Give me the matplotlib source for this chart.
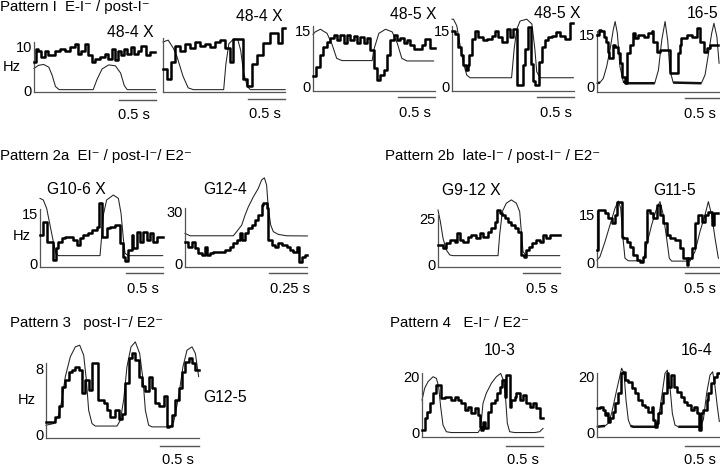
import matplotlib
matplotlib.use('Agg')
import matplotlib.pyplot as plt
import numpy as np

W, H = 720, 466
plt.rcParams['font.family'] = ['Liberation Sans', 'DejaVu Sans']

# ---------------- data ----------------
# thick trace: step edges (s) and firing rate per step (Hz)
# thin trace: time (s) and value (drawn on the same Hz scale)

# Pattern I, 48-4 X (first)
p1_step_t = [0, 0.03, 0.06, 0.10, 0.15, 0.19, 0.28, 0.35, 0.42, 0.49, 0.55, 0.60, 0.64,
             0.69, 0.73, 0.78, 0.82, 0.89, 0.96, 1.00, 1.05, 1.09, 1.13, 1.17, 1.22, 1.26,
             1.31, 1.35, 1.40, 1.45, 1.52, 1.57, 1.64]
p1_step_hz = [6.5, 9.4, 9.0, 7.6, 9.0, 8.0, 9.0, 9.4, 9.0, 9.8, 10.5, 8.3, 9.0, 10.5, 8.0,
              6.5, 7.2, 7.6, 8.3, 7.2, 9.4, 6.9, 9.0, 8.0, 9.4, 8.3, 9.8, 8.3, 9.0, 10.1,
              8.0, 8.7]
p1_thin_t = [0, 0.06, 0.13, 0.20, 0.245, 0.29, 0.34, 0.80, 0.85, 0.92, 1.01, 1.10, 1.17,
             1.22, 1.26, 1.64]
p1_thin_y = [5.0, 5.7, 5.9, 5.3, 3.5, 1.0, 0.3, 0.3, 2.5, 4.9, 5.8, 5.6, 4.0, 1.2, 0.3, 0.3]

# Pattern I, 48-4 X (second)
p2_step_t = [0, 0.05, 0.11, 0.16, 0.23, 0.30, 0.36, 0.43, 0.50, 0.57, 0.64, 0.70, 0.77,
             0.84, 0.91, 0.95, 1.08, 1.14, 1.20, 1.27, 1.35, 1.45, 1.55, 1.61, 1.65]
p2_step_hz = [4.8, 2.6, 6.5, 10, 9, 10.5, 9.5, 11, 10, 10.5, 9.8, 11, 11.3, 9.5, 6.5, 11.6,
              2.6, 1.1, 5.9, 8, 10.6, 12.8, 10.6, 14]
p2_thin_t = [0, 0.07, 0.14, 0.19, 0.27, 0.34, 0.41, 0.82, 0.85, 0.89, 0.95, 1.01, 1.05,
             1.09, 1.14, 1.18, 1.65]
p2_thin_y = [10.9, 11.3, 9.5, 7.6, 3.3, 0.7, 0.3, 0.3, 6, 10.5, 11.5, 11.5, 9, 4, 1, 0.3, 0.3]

# Pattern I, 48-5 X (first)
p3_step_t = [0, 0.045, 0.09, 0.135, 0.19, 0.234, 0.279, 0.324, 0.369, 0.414, 0.459, 0.505,
             0.55, 0.595, 0.64, 0.685, 0.73, 0.775, 0.82, 0.865, 0.91, 0.955, 1.0, 1.045,
             1.09, 1.135, 1.18, 1.225, 1.27, 1.315, 1.36, 1.473, 1.518, 1.586, 1.653]
p3_step_hz = [2.9, 5.4, 8.5, 10.7, 12, 13, 13.8, 12.5, 13.8, 11.6, 13.8, 12.5, 13.6, 11.8,
              13.2, 11.8, 13, 9.8, 4.9, 1.8, 3.1, 4.5, 8.5, 12.5, 13.8, 12.5, 13, 11.6,
              12.5, 11.2, 10, 11.2, 12.7, 10.5]
p3_thin_t = [0, 0.03, 0.10, 0.19, 0.26, 0.32, 0.39, 0.80, 0.82, 0.89, 0.98, 1.07, 1.14,
             1.20, 1.27, 1.63]
p3_thin_y = [14.0, 14.7, 15.4, 14.3, 11.2, 7.6, 7.0, 7.0, 9.8, 14.3, 15.4, 14.7, 11.6, 7.6,
             6.9, 6.9]

# Pattern I, 48-5 X (second)
p4_step_t = [0, 0.04, 0.085, 0.12, 0.155, 0.185, 0.21, 0.23, 0.265, 0.31, 0.355, 0.425,
             0.47, 0.535, 0.58, 0.625, 0.67, 0.74, 0.785, 0.83, 0.875, 0.965, 0.985, 1.03,
             1.07, 1.10, 1.12, 1.17, 1.21, 1.26, 1.30, 1.35, 1.41, 1.46, 1.53, 1.59, 1.64]
p4_step_hz = [15, 14.1, 10.6, 8.4, 5.7, 4.4, 5.7, 8.4, 12.8, 15, 13.2, 12.4, 12.8, 13.7, 15,
              13.2, 11.9, 15.4, 13.2, 15.4, 0.4, 5.7, 10.1, 15.9, 6, 1.5, 0.4, 6.6, 10.6,
              12.4, 13.2, 13.7, 14.6, 13.7, 12.8, 17.2]
p4_thin_t = [0, 0.02, 0.065, 0.11, 0.155, 0.20, 0.245, 0.805, 0.84, 0.875, 0.92, 1.01, 1.08,
             1.12, 1.145, 1.19, 1.64]
p4_thin_y = [18.1, 18.1, 16.3, 11.0, 6.2, 3.1, 2.4, 2.4, 10.1, 15.4, 17.6, 18.1, 16.8, 10.0,
             4.0, 2.4, 2.4]

# Pattern I, 16-5
p5_step_t = [0, 0.03, 0.06, 0.095, 0.12, 0.145, 0.165, 0.21, 0.245, 0.29, 0.31, 0.34, 0.38,
             0.41, 0.44, 0.48, 0.51, 0.56, 0.63, 0.69, 0.74, 0.76, 0.81, 0.85, 0.99, 1.09,
             1.12, 1.14, 1.21, 1.28, 1.35, 1.39, 1.44, 1.48, 1.53, 1.64]
p5_step_hz = [15, 16.5, 16, 14.5, 13, 10.2, 8.2, 12.1, 11.6, 9.7, 6.8, 2.9, 1.2, 9.7, 12.1,
              15.5, 14, 15, 14.5, 15.5, 16, 13, 10.2, 10.5, 3.9, 9.7, 12.1, 14, 15, 14.5,
              17, 13, 10.2, 11.1, 12.1]
p5_thin_t = [0, 0.04, 0.085, 0.13, 0.175, 0.22, 0.245, 0.275, 0.31, 0.355, 0.40, 0.78, 0.83,
             0.875, 0.92, 0.955, 0.985, 1.03, 1.41, 1.46, 1.50, 1.55, 1.58, 1.62, 1.65]
p5_thin_y = [1.0, 1.2, 2.4, 5.8, 10.6, 16.5, 18.9, 15.5, 5.8, 1.5, 1.0, 1.0, 4.8, 13.5, 18.9,
             13.5, 4.8, 1.2, 1.0, 3.4, 8.7, 15.5, 18.4, 14.5, 6.8]

# Pattern 2a, G10-6 X
g106_step_t = [0, 0.036, 0.09, 0.18, 0.216, 0.248, 0.293, 0.338, 0.45, 0.495, 0.54, 0.586,
               0.653, 0.698, 0.766, 0.802, 0.833, 0.856, 0.9, 0.946, 1.014, 1.081, 1.117,
               1.149, 1.194, 1.239, 1.261, 1.306, 1.351, 1.396, 1.441, 1.486, 1.532, 1.577,
               1.658]
g106_step_hz = [8.5, 12.5, 6.5, 1.0, 4.5, 6.5, 7.5, 8.0, 7.0, 5.5, 7.5, 8.5, 9.0, 10.0, 11.0,
                18.0, 8.0, 8.0, 10.5, 11.0, 11.5, 6.0, 2.0, 0.7, 4.0, 8.5, 4.5, 9.5, 6.5,
                9.5, 7.0, 9.0, 6.5, 8.0]
g106_thin_t = [0, 0.045, 0.09, 0.135, 0.18, 0.216, 0.248, 0.811, 0.833, 0.856, 0.9, 0.991,
               1.059, 1.095, 1.126, 1.149, 1.194, 1.658]
g106_thin_y = [19.5, 19, 16.5, 11.5, 6.5, 3, 2.3, 2.3, 8, 14.5, 19, 20.5, 19.5, 15, 7.5, 3,
               2.3, 2.3]

# Pattern 2a, G12-4
g124_step_t = [0, 0.022, 0.044, 0.066, 0.088, 0.11, 0.132, 0.147, 0.164, 0.186, 0.23, 0.263,
               0.296, 0.318, 0.34, 0.362, 0.373, 0.395, 0.417, 0.439, 0.461, 0.482, 0.504,
               0.515, 0.537, 0.548, 0.57, 0.592, 0.614, 0.636, 0.669, 0.691, 0.713, 0.735,
               0.752, 0.768, 0.789, 0.805]
g124_step_hz = [12.6, 9.7, 12.6, 8.7, 5.8, 4.8, 9.7, 4.8, 5.8, 6.4, 6.8, 7.7, 9.7, 11.6, 13.5,
                17.4, 13.5, 17.4, 20.3, 22.2, 25.1, 28, 33.8, 34.8, 32, 13.5, 10.6, 9.7,
                11.6, 10.6, 9.7, 7.7, 6.8, 9.7, 1.0, 3.9, 4.8]
g124_thin_t = [0, 0.033, 0.318, 0.34, 0.373, 0.395, 0.417, 0.45, 0.482, 0.504, 0.522, 0.537,
               0.548, 0.564, 0.581, 0.614, 0.669, 0.805]
g124_thin_y = [17.4, 16.0, 16.0, 18.4, 22.2, 28.0, 32.9, 38.7, 43.5, 48.4, 49.7, 45.5, 32.0,
               22.2, 18.4, 16.8, 16.0, 15.9]

# Pattern 2b, G9-12 X
g912_step_t = [0, 0.068, 0.113, 0.167, 0.225, 0.257, 0.293, 0.338, 0.405, 0.45, 0.518, 0.563,
               0.608, 0.676, 0.721, 0.766, 0.797, 0.833, 0.865, 0.901, 0.946, 0.991, 1.036,
               1.081, 1.126, 1.158, 1.185, 1.23, 1.275, 1.329, 1.374, 1.419, 1.464, 1.509,
               1.644]
g912_step_hz = [10.5, 9.1, 11.4, 13.2, 12.3, 16.8, 13.2, 12.3, 15, 15.9, 14.1, 16.8, 15.0,
                17.8, 19.6, 23.2, 29.5, 27.7, 26.8, 25, 23.2, 21.4, 19.6, 17.8, 5.1, 4.2,
                7.8, 9.6, 11.4, 13.2, 12.3, 15.9, 14.1, 15.9]
g912_thin_t = [0, 0.032, 0.068, 0.113, 0.158, 0.203, 0.811, 0.833, 0.869, 0.923, 0.991,
               1.059, 1.104, 1.126, 1.149, 1.194, 1.644]
g912_thin_y = [29.5, 23.2, 14.1, 7.8, 5.1, 4.7, 4.7, 15.9, 28.6, 33.2, 35.0, 33.2, 28.6,
               17.8, 6.9, 4.7, 4.7]

# Pattern 2b, G11-5
g115_step_t = [0, 0.018, 0.108, 0.153, 0.198, 0.243, 0.275, 0.333, 0.356, 0.401, 0.446,
               0.491, 0.536, 0.581, 0.626, 0.649, 0.68, 0.716, 0.761, 0.806, 0.851, 0.896,
               0.941, 0.986, 1.054, 1.122, 1.167, 1.212, 1.234, 1.279, 1.324, 1.369, 1.414,
               1.459, 1.505, 1.55, 1.581, 1.64]
g115_step_hz = [4, 16.6, 15.5, 14, 12.4, 15, 19.2, 8.2, 7.7, 6.6, 5, 2.4, 0.8, 0.3, 1.9, 6.5,
                16.6, 15.5, 14, 18.2, 15, 12.4, 8.7, 7.7, 7.1, 4.5, 1.4, -0.6, 1.4, 4.5,
                12.4, 15, 12.9, 15, 16, 11.9, 15.5]
g115_thin_t = [0, 0.04, 0.108, 0.176, 0.243, 0.288, 0.32, 0.347, 0.378, 0.423, 0.626, 0.671,
               0.739, 0.806, 0.851, 0.896, 0.941, 0.977, 1.009, 1.257, 1.324, 1.392, 1.459,
               1.505, 1.55, 1.595, 1.64]
g115_thin_y = [0.8, 1.9, 6.6, 11.9, 17.1, 19.4, 17.1, 8.7, 1.4, 0.6, 0.6, 5.6, 11.9, 17.1,
               19.2, 15, 7.7, 1.4, 0.5, 0.5, 3.5, 9.8, 15, 19.2, 15, 7.7, 1.4]

# Pattern 3, G12-5
g125_step_t = [0, 0.12, 0.162, 0.205, 0.248, 0.291, 0.333, 0.376, 0.419, 0.462, 0.504, 0.547,
               0.59, 0.662, 0.739, 0.782, 0.825, 0.889, 0.932, 0.974, 1.017, 1.06, 1.103,
               1.145, 1.188, 1.231, 1.274, 1.316, 1.359, 1.402, 1.444, 1.509, 1.551, 1.573,
               1.615, 1.658, 1.701, 1.744, 1.786, 1.829, 1.872, 1.915, 1.957]
g125_step_hz = [1.5, 2.1, 3.4, 5.7, 6.6, 7.6, 7.8, 8.2, 7.8, 5.0, 6.6, 5.4, 8.6, 4.2, 3.8,
                2.9, 2.1, 2.9, 1.9, 2.5, 6.2, 9.2, 9.8, 9.0, 7.0, 5.8, 5.2, 7.0, 5.6, 3.8,
                3.4, 4.6, 0.9, 1.0, 2.3, 4.2, 5.6, 7.6, 8.8, 9.2, 8.6, 7.8]
g125_thin_t = [0, 0.098, 0.162, 0.205, 0.248, 0.312, 0.376, 0.432, 0.483, 0.517, 0.547,
               0.59, 0.632, 0.91, 0.953, 0.996, 1.038, 1.09, 1.145, 1.201, 1.244, 1.274,
               1.316, 1.359, 1.594, 1.637, 1.701, 1.756, 1.808, 1.872, 1.915, 1.957]
g125_thin_y = [1.1, 1.3, 2.3, 4.2, 7.0, 9.4, 10.6, 10.8, 9.6, 6.6, 2.9, 1.3, 1.0, 1.0, 1.7,
               4.2, 8.2, 10.6, 11.2, 9.8, 6.6, 2.9, 1.1, 0.9, 0.9, 1.5, 4.6, 8.2, 10.2, 10.6,
               9.8, 7.0]

# Pattern 4, 10-3
p103_step_t = [0, 0.036, 0.072, 0.104, 0.149, 0.194, 0.261, 0.306, 0.396, 0.441, 0.486,
               0.532, 0.577, 0.622, 0.667, 0.712, 0.757, 0.779, 0.802, 0.824, 0.856, 0.892,
               0.937, 0.982, 1.018, 1.05, 1.081, 1.117, 1.14, 1.185, 1.207, 1.252, 1.275,
               1.32, 1.365, 1.41, 1.455, 1.5, 1.545, 1.59, 1.635]
p103_step_hz = [0.7, 5.0, 7.4, 10.4, 14.1, 17.1, 12.2, 12.8, 11.6, 12.8, 11.6, 10.4, 7.9,
                9.2, 6.8, 8.6, 6.2, 1.9, 0.7, 3.8, 1.3, 7.4, 10.4, 11.6, 14.1, 16.5, 18.9,
                12.8, 20.7, 9.2, 11.6, 12.8, 14.1, 11.6, 13.5, 10.4, 9.2, 10.4, 8.6, 5.0]
p103_thin_t = [0, 0.036, 0.081, 0.149, 0.194, 0.225, 0.252, 0.284, 0.329, 0.396, 0.757,
               0.793, 0.824, 0.869, 0.937, 1.005, 1.063, 1.108, 1.131, 1.153, 1.185, 1.252,
               1.523, 1.59, 1.635]
p103_thin_y = [11.6, 15.9, 18.3, 20.1, 19.5, 16.5, 9.2, 2.5, 0.1, -0.2, -0.2, 1.3, 10.4,
               14.1, 17.7, 20.1, 21.3, 18.3, 11.6, 3.2, 0.1, -0.2, -0.2, 0.1, 1.3]

# Pattern 4, 16-4
p164_step_t = [0, 0.041, 0.086, 0.108, 0.131, 0.153, 0.176, 0.212, 0.243, 0.288, 0.32, 0.347,
               0.378, 0.423, 0.468, 0.514, 0.559, 0.604, 0.649, 0.694, 0.739, 0.761, 0.784,
               0.806, 0.829, 0.86, 0.896, 0.941, 0.964, 0.995, 1.041, 1.086, 1.131, 1.176,
               1.221, 1.266, 1.311, 1.356, 1.383, 1.405, 1.437, 1.482, 1.505, 1.536, 1.581,
               1.617, 1.653]
p164_step_hz = [8.6, 9.2, 8.0, 6.2, 6.8, 3.8, 5.0, 7.4, 10.4, 14.1, 21.3, 21.9, 18.9, 18.3,
                15.9, 14.1, 11.6, 9.8, 9.2, 7.4, 9.2, 4.4, 1.9, 3.2, 6.8, 10.4, 14.1, 21.3,
                16.5, 20.7, 16.5, 14.7, 12.8, 11.0, 9.8, 8.0, 9.2, 6.8, 0.7, 6.8, 8.0, 11.6,
                14.1, 17.7, 20.1, 21.3]
p164_thin_t = [0, 0.108, 0.153, 0.198, 0.266, 0.333, 0.365, 0.392, 0.423, 0.455, 0.491,
               0.784, 0.829, 0.874, 0.919, 0.95, 0.986, 1.018, 1.054, 1.099, 1.392, 1.437,
               1.482, 1.527, 1.563, 1.595, 1.626, 1.653]
p164_thin_y = [1.9, 2.2, 3.2, 6.8, 15.3, 23.2, 21.3, 11.6, 4.4, 2.2, 1.9, 1.9, 4.4, 12.8,
               21.3, 22.5, 16.5, 6.8, 2.5, 1.9, 1.9, 4.4, 14.1, 20.7, 21.9, 16.5, 9.2, 3.8]

# ---------------- layout (pixels) ----------------
# box: left, right, top, bottom ; zero: pixel row of 0 Hz ; k: px per Hz ; pxs: px per s
panels = [
    dict(st=p1_step_t, sv=p1_step_hz, tt=p1_thin_t, ty=p1_thin_y,
         box=(34, 156, 38, 92), zero=91, k=4.5, pxs=74, ytop=10, bar=0.5, bary=100,
         label='48-4 X', lab_xy=(154, 37), lab_ha='right', bar_txt=(134, 119)),
    dict(st=p2_step_t, sv=p2_step_hz, tt=p2_thin_t, ty=p2_thin_y,
         box=(163, 285, 36, 92), zero=91, k=4.5, pxs=74, ytop=None, bar=0.5, bary=99,
         label='48-4 X', lab_xy=(283, 21), lab_ha='right', bar_txt=(265, 118)),
    dict(st=p3_step_t, sv=p3_step_hz, tt=p3_thin_t, ty=p3_thin_y,
         box=(313, 435, 22, 91), zero=86.7, k=3.73, pxs=74, ytop=15, bar=0.5, bary=97,
         label='48-5 X', lab_xy=(437, 19), lab_ha='right', bar_txt=(415, 117)),
    dict(st=p4_step_t, sv=p4_step_hz, tt=p4_thin_t, ty=p4_thin_y,
         box=(452, 574, 16, 91), zero=86.7, k=3.73, pxs=74, ytop=15, bar=0.5, bary=97,
         label='48-5 X', lab_xy=(580, 18), lab_ha='right', bar_txt=(556, 117)),
    dict(st=p5_step_t, sv=p5_step_hz, tt=p5_thin_t, ty=p5_thin_y,
         box=(597, 722, 18, 91.7), zero=86.7, k=3.45, pxs=74, ytop=15, bar=0.5, bary=98,
         label='16-5', lab_xy=(718, 18), lab_ha='right', bar_txt=(700, 118), bold_base=1.6),
    dict(st=g106_step_t, sv=g106_step_hz, tt=g106_thin_t, ty=g106_thin_y,
         box=(40, 163, 192, 266.7), zero=263.3, k=3.33, pxs=74, ytop=15, bar=0.5, bary=273,
         label='G10-6 X', lab_xy=(47, 194), lab_ha='left', bar_txt=(143, 293)),
    dict(st=g124_step_t, sv=g124_step_hz, tt=g124_thin_t, ty=g124_thin_y,
         box=(185, 307, 176, 266.7), zero=263.3, k=1.72, pxs=152, ytop=30, bar=0.25, bary=273,
         label='G12-4', lab_xy=(203, 194), lab_ha='left', bar_txt=(290, 293), bar_lab='0.25 s'),
    dict(st=g912_step_t, sv=g912_step_hz, tt=g912_thin_t, ty=g912_thin_y,
         box=(438, 560, 198, 266.7), zero=264.3, k=1.84, pxs=74, ytop=25, bar=0.5, bary=273,
         label='G9-12 X', lab_xy=(442, 195), lab_ha='left', bar_txt=(542, 293)),
    dict(st=g115_step_t, sv=g115_step_hz, tt=g115_thin_t, ty=g115_thin_y,
         box=(597, 722, 198, 266.7), zero=262.7, k=3.18, pxs=74, ytop=15, bar=0.5, bary=273,
         label='G11-5', lab_xy=(675, 195), lab_ha='center', bar_txt=(700, 293)),
    dict(st=g125_step_t, sv=g125_step_hz, tt=g125_thin_t, ty=g125_thin_y,
         box=(46, 199, 338, 437.7), zero=434.3, k=8.25, pxs=78, ytop=8, bar=0.5, bary=446,
         label='G12-5', lab_xy=(203, 402), lab_ha='left', bar_txt=(178, 464)),
    dict(st=p103_step_t, sv=p103_step_hz, tt=p103_thin_t, ty=p103_thin_y,
         box=(422, 543, 370, 437.3), zero=432, k=2.75, pxs=74, ytop=20, bar=0.5, bary=446,
         label='10-3', lab_xy=(500, 355), lab_ha='center', bar_txt=(523, 464)),
    dict(st=p164_step_t, sv=p164_step_hz, tt=p164_thin_t, ty=p164_thin_y,
         box=(597, 722, 366, 437.3), zero=432, k=2.75, pxs=74, ytop=20, bar=0.5, bary=446,
         label='16-4', lab_xy=(697, 355), lab_ha='center', bar_txt=(700, 464), bold_base=2.3),
]

FS = 11.3      # panel names
FS_HEAD = 10.8 # pattern headings
FS_TICK = 10.5
FS_BAR = 10.5
SPINE_C = '#555555'


def ftext(x, y, s, **kw):
    kw.setdefault('fontsize', FS)
    return fig.text(x / W, 1 - y / H, s, **kw)


fig = plt.figure(figsize=(W / 100, H / 100), dpi=100)

for p in panels:
    x0, x1, top, bot = p['box']
    ax = fig.add_axes([x0 / W, 1 - bot / H, (x1 - x0) / W, (bot - top) / H])
    ax.patch.set_visible(False)
    xmax = (x1 - x0) / p['pxs']
    ymin = -(bot - p['zero']) / p['k']
    ymax = (p['zero'] - top) / p['k']
    ax.set_xlim(0, xmax)
    ax.set_ylim(ymin, ymax)
    for s in ('top', 'right'):
        ax.spines[s].set_visible(False)
    for s in ('left', 'bottom'):
        ax.spines[s].set_color(SPINE_C)
        ax.spines[s].set_linewidth(0.9)
    ax.set_xticks([])
    if p['ytop'] is not None:
        ax.set_yticks([0, p['ytop']])
        ax.set_yticklabels(['0', str(p['ytop'])], fontsize=FS_TICK)
        ax.spines['left'].set_bounds(ymin, p['ytop'] * 1.08)
    else:
        ax.set_yticks([])
        ax.spines['left'].set_bounds(ymin, ymax * 0.97)
    ax.tick_params(axis='y', length=0, pad=1.5)

    # thin trace
    tt = np.array(p['tt'])
    ty = np.array(p['ty'])
    ax.plot(tt, ty, color='#222222', lw=0.75, clip_on=False, zorder=2)
    if 'bold_base' in p:
        ax.plot(tt, np.where(ty <= p['bold_base'], ty, np.nan), color='#111111', lw=1.8,
                clip_on=False, zorder=2, solid_capstyle='butt')
    # thick step trace
    st = np.array(p['st'])
    sv = np.array(p['sv'] + [p['sv'][-1]])
    ax.step(st, sv, where='post', color='black', lw=1.8, clip_on=False, zorder=3)

    # scale bar under the right end of the axis
    fy = (bot - p['bary']) / (bot - top)
    ax.plot([xmax - p['bar'], xmax], [fy, fy], color=SPINE_C, lw=1.0,
            transform=ax.get_xaxis_transform(), clip_on=False)
    bx, by = p['bar_txt']
    ftext(bx, by, p.get('bar_lab', '0.5 s'), ha='center', va='baseline', fontsize=FS_BAR)

    lx, ly = p['lab_xy']
    ftext(lx, ly, p['label'], ha=p['lab_ha'], va='baseline')

# y unit labels
ftext(12, 67, 'Hz', ha='center', va='center', fontsize=FS_TICK)
ftext(22, 236, 'Hz', ha='center', va='center', fontsize=FS_TICK)
ftext(27, 400, 'Hz', ha='center', va='center', fontsize=FS_TICK)

# pattern headings
ftext(0, 11, 'Pattern I  E-I\u207b / post-I\u207b', ha='left', va='baseline', fontsize=FS_HEAD)
ftext(0, 160, 'Pattern 2a  EI\u207b / post-I\u207b/ E2\u207b', ha='left', va='baseline',
      fontsize=FS_HEAD)
ftext(385, 160, 'Pattern 2b  late-I\u207b / post-I\u207b / E2\u207b', ha='left', va='baseline',
      fontsize=FS_HEAD)
ftext(10, 327, 'Pattern 3   post-I\u207b/ E2\u207b', ha='left', va='baseline', fontsize=FS_HEAD)
ftext(390, 327, 'Pattern 4   E-I\u207b / E2\u207b', ha='left', va='baseline', fontsize=FS_HEAD)

fig.savefig('out.png', dpi=100)
